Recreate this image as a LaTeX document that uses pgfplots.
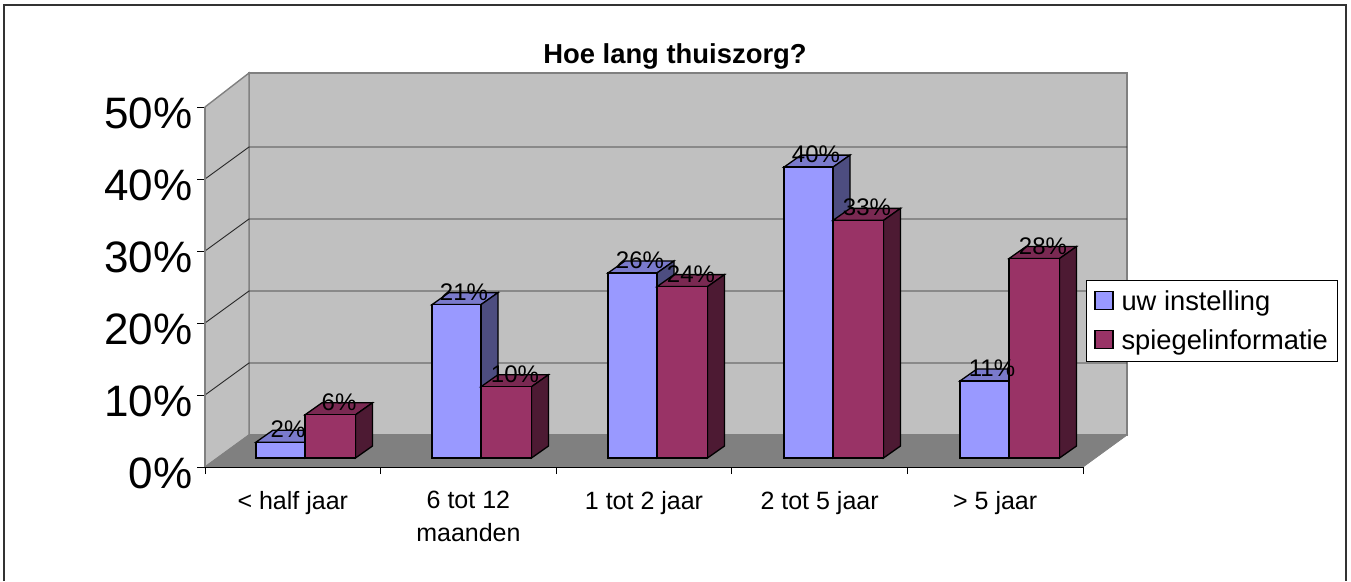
\documentclass[border=0pt]{standalone}
\usepackage{fontspec}
\setmainfont{Liberation Sans}
\usepackage{pgfplots}
\usepackage{pgfplotstable}
\pgfplotsset{compat=1.18}
\definecolor{wall}{HTML}{C0C0C0}
\definecolor{flr}{HTML}{808080}
\definecolor{bluef}{HTML}{9999FF}
\definecolor{bluet}{HTML}{7A7ACC}
\definecolor{blues}{HTML}{4D4D80}
\definecolor{marf}{HTML}{993366}
\definecolor{mart}{HTML}{7A2952}
\definecolor{mars}{HTML}{4D1A33}
\pgfplotstableread{
pos u s
305 2.2 6.0
481 21.3 9.9
657 25.7 23.8
833 40.4 33.0
1009 10.7 27.7
}\data
\newcommand{\fs}[1]{\fontsize{#1pt}{#1pt}\selectfont}
\begin{document}
\begin{tikzpicture}
\path[use as bounding box] (0pt,0pt) rectangle (1351pt,581pt);
\begin{axis}[
  at={(0pt,0pt)}, anchor=south west,
  scale only axis, width=1351pt, height=581pt,
  xmin=0, xmax=1351, ymin=-17.083, ymax=63.611,
  axis lines=none,
  title={\textbf{Hoe lang thuiszorg?}},
  title style={at={(0.4996,0.9088)}, anchor=center, font=\fs{27.4}, inner sep=0pt, yshift=-9pt},
  legend style={at={(axis cs:1086,24.72)}, anchor=north west, draw=black, line width=0.9pt,
    font=\fs{27.3}, inner xsep=8pt, inner ysep=8pt, row sep=14pt, fill=white,
    /tikz/every odd column/.append style={column sep=6pt}},
  legend cell align=left,
]
% outer frame
\addplot[forget plot, draw=black!80, line width=1.3pt] coordinates {(4,-17.083) (4,62.9) (1346,62.9) (1346,-17.083)};
% back wall, left wall, floor
\addplot[forget plot, fill=wall, draw=flr, line width=1.4pt] coordinates {(249,53.472) (1127,53.472) (1127,3.194) (249,3.194)} -- cycle;
\addplot[forget plot, fill=wall, draw=flr, line width=1.4pt] coordinates {(205,48.75) (249,53.472) (249,3.194) (205,-1.25)} -- cycle;
\addplot[forget plot, fill=flr, draw=flr, line width=0.8pt] coordinates {(205,-1.25) (249,3.194) (1127,3.194) (1083,-1.25)} -- cycle;
% grid lines
\addplot[forget plot, draw=black!85, line width=0.9pt] coordinates {(205,8.75) (249,13.194) (1127,13.194)};
\addplot[forget plot, draw=black!85, line width=0.9pt] coordinates {(205,18.75) (249,23.194) (1127,23.194)};
\addplot[forget plot, draw=black!85, line width=0.9pt] coordinates {(205,28.75) (249,33.194) (1127,33.194)};
\addplot[forget plot, draw=black!85, line width=0.9pt] coordinates {(205,38.75) (249,43.194) (1127,43.194)};
% blue bars: top and side faces
\pgfplotsforeachungrouped \i in {0,...,4}{
  \pgfplotstablegetelem{\i}{pos}\of\data \let\c\pgfplotsretval
  \pgfplotstablegetelem{\i}{u}\of\data \let\v\pgfplotsretval
  \pgfmathsetmacro\xa{\c-49}
  \pgfmathsetmacro\xb{\c-49+17}
  \pgfmathsetmacro\xc{\c+17}
  \pgfmathsetmacro\vt{\v+1.667}
  \addplot[forget plot, fill=bluet, draw=black, line width=1.3pt] coordinates {(\xa,\v) (\xb,\vt) (\xc,\vt) (\c,\v)} -- cycle;
  \addplot[forget plot, fill=blues, draw=black, line width=1.3pt] coordinates {(\c,\v) (\xc,\vt) (\xc,1.667) (\c,0)} -- cycle;
}
\addplot[ybar, bar width=49, bar shift=-24.5, fill=bluef, draw=black, line width=1.3pt,
  legend image code/.code={\draw[fill=bluef, draw=black, line width=1.1pt] (0pt,-8pt) rectangle (18pt,10pt);},
  nodes near coords={\pgfmathprintnumber[fixed,precision=0,assume math mode=true]{\pgfplotspointmeta}\%},
  every node near coord/.append style={anchor=base, xshift=-17pt, yshift=4.5pt, inner sep=0pt, font=\fs{24}, text=black},
  point meta=y]
  table[x=pos, y=u] {\data};
\addlegendentry{uw instelling}
% maroon bars: top and side faces
\pgfplotsforeachungrouped \i in {0,...,4}{
  \pgfplotstablegetelem{\i}{pos}\of\data \let\c\pgfplotsretval
  \pgfplotstablegetelem{\i}{s}\of\data \let\v\pgfplotsretval
  \pgfmathsetmacro\xb{\c+17}
  \pgfmathsetmacro\xc{\c+50.5}
  \pgfmathsetmacro\xd{\c+67.5}
  \pgfmathsetmacro\vt{\v+1.667}
  \addplot[forget plot, fill=mart, draw=black, line width=1.3pt] coordinates {(\c,\v) (\xb,\vt) (\xd,\vt) (\xc,\v)} -- cycle;
  \addplot[forget plot, fill=mars, draw=black, line width=1.3pt] coordinates {(\xc,\v) (\xd,\vt) (\xd,1.667) (\xc,0)} -- cycle;
}
\addplot[ybar, bar width=50.5, bar shift=25.25, fill=marf, draw=black, line width=1.3pt,
  legend image code/.code={\draw[fill=marf, draw=black, line width=1.1pt] (0pt,-8pt) rectangle (18pt,10pt);},
  nodes near coords={\pgfmathprintnumber[fixed,precision=0,assume math mode=true]{\pgfplotspointmeta}\%},
  every node near coord/.append style={anchor=base, xshift=34pt, yshift=4.5pt, inner sep=0pt, font=\fs{24}, text=black},
  point meta=y]
  table[x=pos, y=s] {\data};
\addlegendentry{spiegelinformatie}
\end{axis}
\begin{axis}[
  at={(205pt,114pt)}, anchor=south west,
  scale only axis, width=878pt, height=360pt,
  xmin=0, xmax=5, ymin=0, ymax=50,
  axis x line=bottom, axis y line=left,
  x axis line style={-, draw=black, line width=0.9pt},
  y axis line style={-, draw=flr, line width=1.2pt},
  tick align=outside, tickwidth=8pt, minor tick length=7pt,
  xtick={0.5,1.5,2.5,3.5,4.5},
  xticklabels={{< half jaar},{6 tot 12\\[8pt]maanden},{1 tot 2 jaar},{2 tot 5 jaar},{> 5 jaar}},
  minor xtick={0,1,2,3,4,5},
  major x tick style={draw=none},
  minor x tick style={draw=black, line width=0.9pt},
  major y tick style={draw=black, line width=0.9pt},
  xticklabel style={font=\fs{25}, align=center, text=black, yshift=-13pt},
  ytick={0,10,20,30,40,50},
  yticklabels={0\%,10\%,20\%,30\%,40\%,50\%},
  yticklabel style={font=\fs{44}, text=black, xshift=-1pt, yshift=-6pt},
]
\end{axis}
\end{tikzpicture}
\end{document}
